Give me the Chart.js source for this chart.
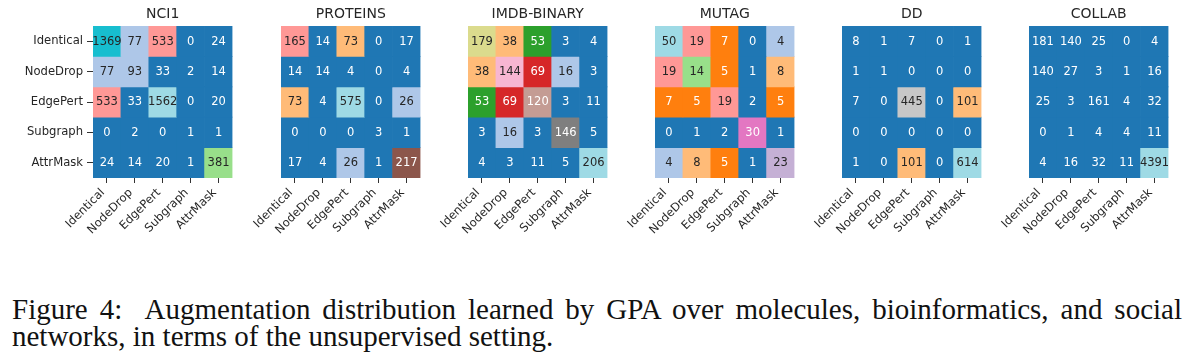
<!DOCTYPE html>
<html><head><meta charset="utf-8">
<script src="https://cdn.jsdelivr.net/npm/chart.js@4.4.1/dist/chart.umd.min.js"></script>
<style>
html,body{margin:0;padding:0;background:#fff;}
#wrap{position:relative;width:1189px;height:363px;overflow:hidden;background:#fff;}
#wrap canvas{position:absolute;top:0;}
.cap{position:absolute;left:12px;font-family:'Liberation Serif','Times New Roman',serif;font-size:29px;line-height:27.5px;color:#111;white-space:nowrap;}
</style></head><body>
<div id="wrap">
<div class="cap" style="top:295.5px;width:1170px;text-align:justify;text-align-last:justify;">Figure 4:&nbsp; Augmentation distribution learned by GPA over molecules, bioinformatics, and social</div>
<div class="cap" style="top:323px;">networks, in terms of the unsupervised setting.</div>
</div>
<script>
// ---------------- data ----------------
const categories = ['Identical', 'NodeDrop', 'EdgePert', 'Subgraph', 'AttrMask'];
const panelTitles = ['NCI1', 'PROTEINS', 'IMDB-BINARY', 'MUTAG', 'DD', 'COLLAB'];
const nci1 = [[1369, 77, 533, 0, 24], [77, 93, 33, 2, 14], [533, 33, 1562, 0, 20], [0, 2, 0, 1, 1], [24, 14, 20, 1, 381]];
const proteins = [[165, 14, 73, 0, 17], [14, 14, 4, 0, 4], [73, 4, 575, 0, 26], [0, 0, 0, 3, 1], [17, 4, 26, 1, 217]];
const imdbBinary = [[179, 38, 53, 3, 4], [38, 144, 69, 16, 3], [53, 69, 120, 3, 11], [3, 16, 3, 146, 5], [4, 3, 11, 5, 206]];
const mutag = [[50, 19, 7, 0, 4], [19, 14, 5, 1, 8], [7, 5, 19, 2, 5], [0, 1, 2, 30, 1], [4, 8, 5, 1, 23]];
const dd = [[8, 1, 7, 0, 1], [1, 1, 0, 0, 0], [7, 0, 445, 0, 101], [0, 0, 0, 0, 0], [1, 0, 101, 0, 614]];
const collab = [[181, 140, 25, 0, 4], [140, 27, 3, 1, 16], [25, 3, 161, 4, 32], [0, 1, 4, 4, 11], [4, 16, 32, 11, 4391]];
const matrices = [nci1, proteins, imdbBinary, mutag, dd, collab];

// ---------------- style ----------------
const TAB20 = ['#1f77b4','#aec7e8','#ff7f0e','#ffbb78','#2ca02c','#98df8a','#d62728','#ff9896','#9467bd','#c5b0d5',
               '#8c564b','#c49c94','#e377c2','#f7b6d2','#7f7f7f','#c7c7c7','#bcbd22','#dbdb8d','#17becf','#9edae5'];
const colorRanges = [[0, 1470], [0, 420], [3, 206], [0, 50], [0, 575], [0, 4391]]; // colour-scale limits per panel
const panelLefts = [93, 281, 468, 655, 842, 1029];
const FONT = 'DejaVu Sans';
const TXT = '#262626';

function cellColor(v, range) {
  const [lo, hi] = range;
  let k = Math.floor((v - lo) * 20 / (hi - lo));
  k = Math.max(0, Math.min(19, k));
  return TAB20[k];
}
function lum(hex) {
  const c = [1, 3, 5].map(i => parseInt(hex.substr(i, 2), 16) / 255)
    .map(x => x <= 0.03928 ? x / 12.92 : Math.pow((x + 0.055) / 1.055, 2.4));
  return 0.2126 * c[0] + 0.7152 * c[1] + 0.0722 * c[2];
}

const annotPlugin = {
  id: 'annot',
  afterDatasetsDraw(chart) {
    const ctx = chart.ctx;
    ctx.save();
    ctx.font = '11.5px "' + FONT + '"';
    ctx.textAlign = 'center';
    ctx.textBaseline = 'middle';
    chart.data.datasets.forEach((ds, di) => {
      const meta = chart.getDatasetMeta(di);
      meta.data.forEach((el, j) => {
        ctx.fillStyle = ds.textColors[j];
        ctx.fillText(String(ds.cellValues[j]), el.x, (el.y + el.base) / 2 + 0.5);
      });
    });
    ctx.restore();
  }
};

const wrap = document.getElementById('wrap');
matrices.forEach((mat, p) => {
  const cv = document.createElement('canvas');
  cv.width = 240; cv.height = 260;
  cv.style.left = (panelLefts[p] - 93) + 'px';
  cv.style.width = '240px'; cv.style.height = '260px';
  wrap.appendChild(cv);
  const datasets = mat.map((row, r) => {
    const colors = row.map(v => cellColor(v, colorRanges[p]));
    return {
      data: row.map(() => [r, r + 1]),
      cellValues: row,
      backgroundColor: colors,
      textColors: colors.map(c => lum(c) > 0.408 ? TXT : '#ffffff'),
      borderWidth: 0,
      grouped: false,
      barPercentage: 1,
      categoryPercentage: 1
    };
  });
  new Chart(cv, {
    type: 'bar',
    data: { labels: categories, datasets },
    options: {
      responsive: false,
      animation: false,
      devicePixelRatio: 1,
      layout: { padding: { left: 0, right: 7.5, top: 0, bottom: 0 } },
      plugins: {
        legend: { display: false },
        tooltip: { enabled: false },
        title: {
          display: true, text: panelTitles[p], fullSize: false, color: TXT,
          font: { family: FONT, size: 14, weight: 'normal', lineHeight: 1.2 },
          padding: { top: 6, bottom: 3.2 }
        }
      },
      scales: {
        x: {
          type: 'category', offset: true,
          ticks: { minRotation: 45, maxRotation: 45, autoSkip: false, padding: 3, labelOffset: -4, color: TXT,
                   font: { family: FONT, size: 11.6 } },
          grid: { offset: false, drawOnChartArea: false, drawTicks: true, tickLength: 5, color: '#333333' },
          border: { display: false },
          afterFit: s => { s.height = 82; }
        },
        y: {
          type: 'linear', min: 0, max: 5, reverse: true,
          afterBuildTicks: s => { s.ticks = categories.map((c, i) => ({ value: i + 0.5 })); },
          ticks: { display: p === 0, autoSkip: false, padding: 4, color: TXT,
                   font: { family: FONT, size: 11.6 },
                   callback: v => categories[Math.floor(v)] },
          grid: { display: p === 0, drawOnChartArea: false, drawTicks: true, tickLength: 6, color: '#333333' },
          border: { display: false },
          afterFit: s => { s.width = 93; }
        }
      }
    },
    plugins: [annotPlugin]
  });
});
</script>
</body></html>
